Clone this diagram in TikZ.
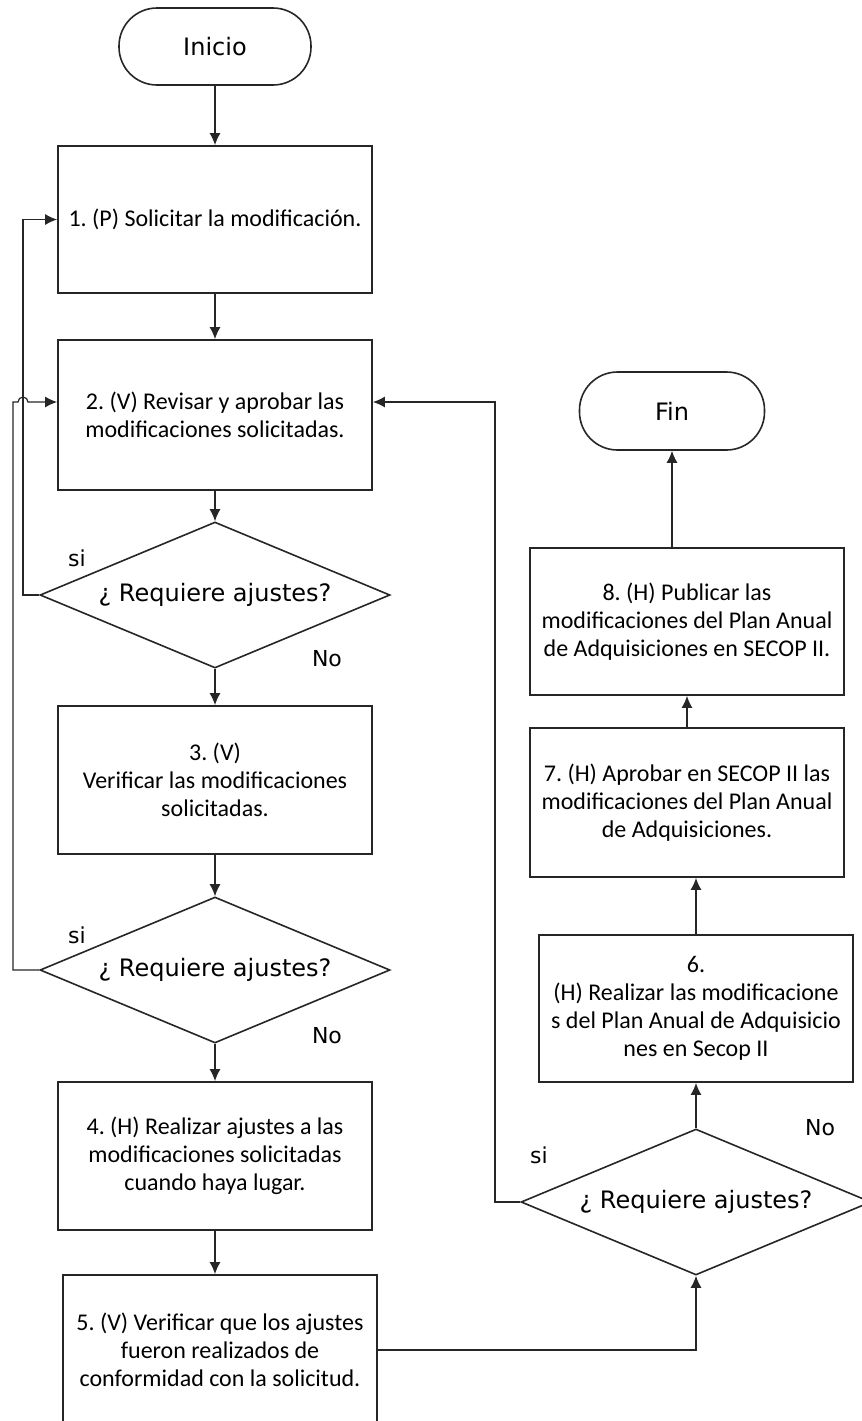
\documentclass[tikz,border=0pt]{standalone}
\usepackage{fontspec}
\setmainfont{Carlito}
\newfontfamily\verdana{DejaVu Sans}
\usetikzlibrary{arrows.meta}
\usetikzlibrary{shapes.geometric}
\frenchspacing

\begin{document}
\begin{tikzpicture}[x=0.5pt,y=-0.5pt,
    paso/.style={draw=black!85,line width=0.9pt,minimum width=157pt,align=center,inner sep=0pt,font=\fontsize{12}{14}\selectfont},
    extremo/.style={draw=black!85,line width=0.8pt,rounded corners=19pt,minimum width=96pt,minimum height=38.5pt,font=\verdana\fontsize{12}{14}\selectfont},
    decision/.style={diamond,aspect=2.4,draw=black!85,line width=0.8pt,minimum width=175pt,minimum height=73pt,inner sep=0pt,font=\verdana\fontsize{12}{14}\selectfont},
    etiqueta/.style={font=\verdana\fontsize{11}{13}\selectfont,inner sep=0pt},
    flecha/.style={draw=black!85,line width=0.6pt,-{Latex[length=6pt,width=5.5pt]}}]

    \clip (0,0) rectangle (862,1421);

    % columna izquierda
    \node[extremo] (inicio) at (215,46.5) {Inicio};
    \node[paso,minimum height=73.5pt] (p1) at (215,219.5) {1. (P) Solicitar la modificación.};
    \node[paso,minimum height=75pt] (p2) at (215,415) {2. (V) Revisar y aprobar las\\modificaciones solicitadas.};
    \node[decision] (d1) at (215,595) {¿ Requiere ajustes?};
    \node[paso,minimum height=74pt] (p3) at (215,780) {3. (V)\\Verificar las modificaciones\\solicitadas.};
    \node[decision] (d2) at (215,970) {¿ Requiere ajustes?};
    \node[paso,minimum height=74pt] (p4) at (215,1156) {4. (H) Realizar ajustes a las\\modificaciones solicitadas\\cuando haya lugar.};
    \node[paso,minimum height=75pt] (p5) at (220,1350) {5. (V) Verificar que los ajustes\\fueron realizados de\\conformidad con la solicitud.};

    % columna derecha
    \node[extremo,minimum width=92.5pt,minimum height=39pt] (fin) at (672,411) {Fin};
    \node[paso,minimum height=73.5pt] (p8) at (687,621.5) {8. (H) Publicar las\\modificaciones del Plan Anual\\de Adquisiciones en SECOP II.};
    \node[paso,minimum height=74.5pt] (p7) at (687,802.5) {7. (H) Aprobar en SECOP II las\\modificaciones del Plan Anual\\de Adquisiciones.};
    \node[paso,minimum height=73.5pt] (p6) at (696,1008.5) {6.\\(H) Realizar las modificacione\\s del Plan Anual de Adquisicio\\nes en Secop II};
    \node[decision] (d3) at (696,1202) {¿ Requiere ajustes?};

    % puntos de los retornos
    \coordinate (retA) at (23,595);
    \coordinate (retB) at (13,970);
    \coordinate (retC) at (495,1202);
    \coordinate (entrada) at (0,402);
    \coordinate (salto) at (18,402);

    % flujo principal
    \draw[flecha] (inicio) -- (p1);
    \draw[flecha] (p1) -- (p2);
    \draw[flecha] (p2) -- (d1);
    \draw[flecha] (d1) -- (p3);
    \draw[flecha] (p3) -- (d2);
    \draw[flecha] (d2) -- (p4);
    \draw[flecha] (p4.south) -- (p4.south |- p5.north);
    \draw[flecha] (p5) -| (d3);
    \draw[flecha] (d3) -- (p6);
    \draw[flecha] (p6.north) -- (p6.north |- p7.south);
    \draw[flecha] (p7.north) -- (p7.north |- p8.south);
    \draw[flecha] (fin.south |- p8.north) -- (fin);

    % retornos
    \draw[flecha] (d1.west) -- (retA) |- (p1.west);
    \draw[flecha] (d2.west) -- (retB) |- (salto) arc[start angle=180,end angle=0,radius=2.5pt] -- (p2.west |- entrada);
    \draw[flecha] (d3.west) -- (retC) |- (p2.east |- entrada);

    % etiquetas
    \node[etiqueta] (si1) at (77,558) {si};
    \node[etiqueta] (no1) at (327,659) {No};
    \node[etiqueta] (si2) at (77,935) {si};
    \node[etiqueta] (no2) at (327,1036) {No};
    \node[etiqueta] (si3) at (539,1155) {si};
    \node[etiqueta] (no3) at (820,1128) {No};
\end{tikzpicture}
\end{document}
